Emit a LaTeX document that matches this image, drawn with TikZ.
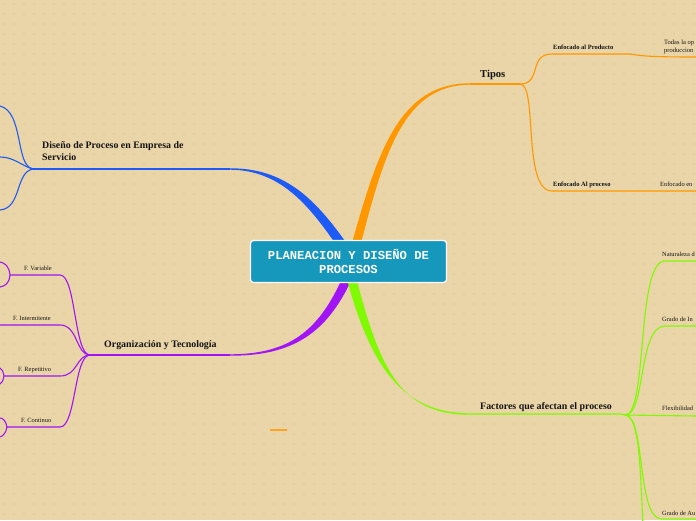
\documentclass[tikz,border=0pt]{standalone}
\usepackage{fontspec}
\setmainfont{Liberation Serif}
\newfontfamily\monob{Liberation Mono}
\definecolor{bg}{RGB}{233,213,168}
\definecolor{dotc}{RGB}{221,200,152}
\definecolor{cbox}{RGB}{22,152,188}
\definecolor{cblue}{RGB}{30,90,245}
\definecolor{corange}{RGB}{255,152,0}
\definecolor{cpurple}{RGB}{160,20,245}
\definecolor{cgreen}{RGB}{128,250,0}
\definecolor{ctext}{RGB}{20,20,20}
\tikzset{
  mainlbl/.style={font=\fontsize{9.9}{12}\selectfont\bfseries, text=ctext, inner sep=0pt, anchor=base west},
  sublbl/.style={font=\fontsize{6.5}{8}\selectfont\bfseries, text=ctext, inner sep=0pt, anchor=base west},
  leaflbl/.style={font=\fontsize{6.4}{8}\selectfont, text=ctext, inner sep=0pt, anchor=base west},
  thin/.style={line width=1.1pt},
}
\begin{document}
\begin{tikzpicture}[x=1pt,y=-1pt]
\useasboundingbox (0,0) rectangle (696,520);
\clip (0,0) rectangle (696,520);
\fill[bg] (0,0) rectangle (696,520);
\foreach \i in {0,...,70}{\foreach \j in {0,...,52}{\fill[dotc] (\i*10+4,\j*10+4) circle (0.8);}}

% junctions
\coordinate (jblue) at (33,169);
\coordinate (jor) at (520,84);
\coordinate (jpur) at (90,355);
\coordinate (jgr) at (625,415);

% thick tapered main branches
\fill[cblue] (230,168.3) .. controls (284,168) and (314,198) .. (345,241) -- (335,243) .. controls (307,203) and (279,170) .. (230,169.7) -- cycle;
\draw[cblue,thin] (jblue) -- (230,169);
\fill[corange] (352,243) .. controls (378,150) and (400,83.3) .. (470,83.3) -- (470,84.7) .. controls (405,85) and (385,150) .. (361,243) -- cycle;
\draw[corange,thin] (470,84) -- (jor);
\fill[cpurple] (341,281) .. controls (318,330) and (290,354.3) .. (230,354.3) -- (230,355.7) .. controls (294,356) and (326,332) .. (350,283) -- cycle;
\draw[cpurple,thin] (jpur) -- (230,355);
\fill[cgreen] (348,283) .. controls (372,370) and (405,413.3) .. (470,413.3) -- (470,414.7) .. controls (400,415) and (380,368) .. (357,281) -- cycle;
\draw[cgreen,thin] (470,414) -- (620,414) -- (jgr);

% orange sub-branches
\draw[corange,thin] (jor) .. controls (542,84) and (528,54) .. (552,54) -- (630,54) .. controls (642,56) and (650,57) .. (696,57);
\draw[corange,thin] (jor) .. controls (538,84) and (522,191) .. (552,191) -- (696,191);

% blue sub-branches
\draw[cblue,thin] (jblue) .. controls (15,166) and (24,112) .. (0,106);
\draw[cblue,thin] (jblue) .. controls (22,166) and (14,157) .. (0,157);
\draw[cblue,thin] (jblue) .. controls (15,172) and (22,208) .. (0,210);

% purple sub-branches
\coordinate (pv) at (10,275);
\coordinate (pi) at (0,325);
\coordinate (pr) at (4,376);
\coordinate (pc) at (7,427);
\draw[cpurple,thin] (jpur) .. controls (74,355) and (76,275) .. (60,275) -- (pv);
\draw[cpurple,thin] (pv) .. controls (9,266) and (5,263) .. (0,262);
\draw[cpurple,thin] (pv) .. controls (9,284) and (5,286) .. (0,287);
\draw[cpurple,thin] (jpur) .. controls (76,355) and (78,325) .. (60,325) -- (pi);
\draw[cpurple,thin] (jpur) .. controls (76,355) and (78,376) .. (60,376) -- (pr);
\draw[cpurple,thin] (pr) .. controls (3,371) and (2,369) .. (0,368);
\draw[cpurple,thin] (pr) .. controls (3,381) and (2,383) .. (0,384);
\draw[cpurple,thin] (jpur) .. controls (74,355) and (76,427) .. (60,427) -- (pc);
\draw[cpurple,thin] (pc) .. controls (6,421) and (3,418) .. (0,418);
\draw[cpurple,thin] (pc) .. controls (6,433) and (3,436) .. (0,437);

% green sub-branches
\draw[cgreen,thin] (jgr) .. controls (648,415) and (636,261) .. (665,261) -- (696,261);
\draw[cgreen,thin] (jgr) .. controls (646,415) and (638,326) .. (665,326) -- (696,326);
\draw[cgreen,thin] (jgr) -- (696,416);
\draw[cgreen,thin] (jgr) .. controls (646,415) and (636,519) .. (662,519) -- (696,519);
\draw[cgreen,thin] (jgr) .. controls (640,416) and (640,470) .. (643,525);

% stray small bar
\fill[corange!80!bg] (270,429) rectangle (287,431);

% central node
\node[draw=white, line width=1.2pt, fill=cbox, rounded corners=3pt, minimum width=196pt, minimum height=42pt, align=center, text=white, font=\monob\fontsize{12.2}{14}\selectfont\bfseries] (center) at (348.5,261.5) {PLANEACION Y DISEÑO DE\\PROCESOS};

% labels
\node[mainlbl, font=\fontsize{10.6}{12}\selectfont\bfseries] (tipos) at (480,77) {Tipos};
\node[mainlbl, anchor=north west, align=left, font=\fontsize{9.9}{12}\selectfont\bfseries] (diseno) at (42,141.5) {Diseño de Proceso en Empresa de\\Servicio};
\node[mainlbl] (org) at (104,347.5) {Organización y Tecnología};
\node[mainlbl] (fact) at (480,409) {Factores que afectan el proceso};

\node[sublbl] (prod) at (553,49) {Enfocado al Producto};
\node[sublbl] (proc) at (553,186.5) {Enfocado Al proceso};
\node[leaflbl, anchor=north west, align=left, font=\fontsize{6.5}{8.5}\selectfont] (todas) at (664,39.5) {Todas la op\\produccion};
\node[leaflbl] (encen) at (660,186.5) {Enfocado en};

\node[leaflbl] (fvar) at (24,270) {F. Variable};
\node[leaflbl] (fint) at (13,320.5) {F. Intermitente};
\node[leaflbl] (frep) at (18,371) {F. Repetitivo};
\node[leaflbl] (fcon) at (21,422) {F. Continuo};

\node[leaflbl] (nat) at (662,256) {Naturaleza d};
\node[leaflbl] (gin) at (662,321) {Grado de In};
\node[leaflbl] (flex) at (662,410.5) {Flexibilidad};
\node[leaflbl] (gau) at (662,515) {Grado de Au};
\end{tikzpicture}
\end{document}
